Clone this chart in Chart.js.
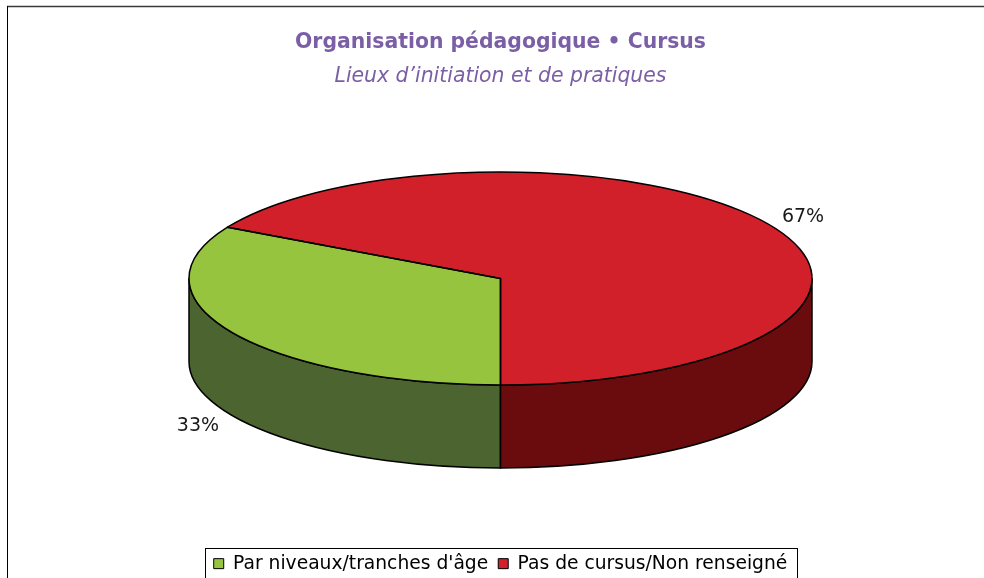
<!DOCTYPE html>
<html lang="fr">
<head>
<meta charset="utf-8">
<title>Organisation pédagogique • Cursus</title>
<script src="https://cdn.jsdelivr.net/npm/chart.js@4/dist/chart.umd.min.js"></script>
<style>
  html, body { margin: 0; padding: 0; background: #fff; }
  #wrap { width: 984px; height: 578px; }
</style>
</head>
<body>
<div id="wrap"><canvas id="c" width="984" height="578"></canvas></div>
<script>
// ---- data ----
const categories = ['Par niveaux/tranches d\'âge', 'Pas de cursus/Non renseigné'];
const shares = [33, 67];
const chartTitle = 'Organisation pédagogique • Cursus';
const chartSubtitle = 'Lieux d’initiation et de pratiques';

// ---- styles ----
const topColors = ['#96c43e', '#d12029'];
const sideColors = ['#4c6530', '#6a0b0d'];
const FONT = '"DejaVu Sans", Verdana, sans-serif';
const TITLE_COLOR = '#7b5fa6';
const OUTLINE = '#000';
const TILT = 106.5 / 311.5;   // vertical squash of the disc
const DEPTH = 83;             // disc thickness (px)
const LABEL_GAP = 40;         // distance of % labels outside the rim
const FRONT_LABEL_DROP = 3;   // extra drop for labels on the near side

// Geometry of the disc from the arcs laid out by the doughnut controller.
// The extruded disc is centred in the chart area, so its top face sits DEPTH/2 higher.
function disc(chart) {
  const meta = chart.getDatasetMeta(0);
  const a = meta.data[0];
  const R = a.outerRadius;
  return { meta, cx: a.x, cy: a.y, R, r: R * TILT, top: a.y - DEPTH / 2 };
}

const pie3d = {
  id: 'pie3d',
  beforeDraw(chart) {
    const ctx = chart.ctx;
    ctx.save();
    ctx.fillStyle = '#fff';
    ctx.fillRect(0, 0, chart.width, chart.height);
    // frame
    ctx.strokeStyle = '#3a3a3a';
    ctx.lineWidth = 1.5;
    ctx.beginPath();
    ctx.moveTo(7, 6.5); ctx.lineTo(chart.width, 6.5);
    ctx.stroke();
    ctx.strokeStyle = '#000';
    ctx.lineWidth = 1;
    ctx.beginPath();
    ctx.moveTo(7.5, 6); ctx.lineTo(7.5, chart.height);
    ctx.stroke();
    ctx.restore();
  },
  beforeDatasetsDraw(chart) {
    // front walls of each slice (the part of the rim facing the viewer)
    const g = disc(chart), ctx = chart.ctx;
    ctx.save();
    ctx.lineWidth = 1.5;
    ctx.strokeStyle = OUTLINE;
    ctx.lineJoin = 'round';
    g.meta.data.forEach((arc, i) => {
      const s = arc.startAngle, e = arc.endAngle;
      for (let m = -2 * Math.PI; m <= 4 * Math.PI; m += 2 * Math.PI) {
        const lo = Math.max(s, m), hi = Math.min(e, m + Math.PI);
        if (hi <= lo) continue;
        ctx.beginPath();
        ctx.ellipse(g.cx, g.top, g.R, g.r, 0, lo, hi, false);
        ctx.ellipse(g.cx, g.top + DEPTH, g.R, g.r, 0, hi, lo, true);
        ctx.closePath();
        ctx.fillStyle = sideColors[i];
        ctx.fill();
        ctx.stroke();
      }
    });
    ctx.restore();
  },
  beforeDatasetDraw(chart) {
    // tilt the top face: draw the circular pie squashed into an ellipse
    const g = disc(chart), ctx = chart.ctx;
    ctx.save();
    ctx.translate(g.cx, g.top);
    ctx.scale(1, TILT);
    ctx.translate(-g.cx, -g.cy);
  },
  afterDatasetDraw(chart) {
    chart.ctx.restore();
  },
  afterDatasetsDraw(chart) {
    const g = disc(chart), ctx = chart.ctx;
    const values = chart.data.datasets[0].data;
    const total = values.reduce((a, b) => a + b, 0);
    ctx.save();
    // outlines of the top face
    ctx.lineWidth = 1.5;
    ctx.strokeStyle = OUTLINE;
    ctx.lineJoin = 'round';
    g.meta.data.forEach((arc) => {
      ctx.beginPath();
      ctx.moveTo(g.cx, g.top);
      ctx.ellipse(g.cx, g.top, g.R, g.r, 0, arc.startAngle, arc.endAngle, false);
      ctx.closePath();
      ctx.stroke();
    });
    // percentage labels
    ctx.font = '19px ' + FONT;
    ctx.fillStyle = '#1a1a1a';
    ctx.textAlign = 'center';
    ctx.textBaseline = 'middle';
    g.meta.data.forEach((arc, i) => {
      const mid = (arc.startAngle + arc.endAngle) / 2;
      const rr = g.R + LABEL_GAP;
      const sn = Math.sin(mid);
      const x = g.cx + rr * Math.cos(mid);
      const y = g.top + rr * TILT * sn + (sn > 0 ? DEPTH + FRONT_LABEL_DROP : 0);
      ctx.fillText(Math.round(values[i] / total * 100) + '%', x, y);
    });
    ctx.restore();
  },
  afterDraw(chart) {
    // frame around the legend
    const lg = chart.legend;
    if (!lg || !lg.legendHitBoxes || !lg.legendHitBoxes.length) return;
    const hb = lg.legendHitBoxes;
    const left = Math.min(...hb.map(h => h.left)) - 8.5;
    const right = Math.max(...hb.map(h => h.left + h.width)) + 9.5;
    const top = Math.min(...hb.map(h => h.top)) - 6.5;
    const ctx = chart.ctx;
    ctx.save();
    ctx.strokeStyle = '#000';
    ctx.lineWidth = 1;
    ctx.strokeRect(Math.round(left) + 0.5, Math.round(top) + 0.5,
                   Math.round(right - left), chart.height + 10 - Math.round(top));
    ctx.restore();
  }
};

new Chart(document.getElementById('c'), {
  type: 'doughnut',
  data: {
    labels: categories,
    datasets: [{
      data: shares,
      backgroundColor: topColors,
      borderWidth: 0,
      clip: false
    }]
  },
  options: {
    responsive: false,
    animation: false,
    events: [],
    cutout: 0,
    rotation: 180,
    radius: 311.5,
    layout: { padding: { left: 17, right: 0, top: 0, bottom: -5 } },
    plugins: {
      title: {
        display: true,
        text: chartTitle,
        color: TITLE_COLOR,
        font: { family: FONT, size: 20.4, weight: 'bold' },
        padding: { top: 30, bottom: 0 }
      },
      subtitle: {
        display: true,
        text: chartSubtitle,
        color: TITLE_COLOR,
        font: { family: FONT, size: 20.4, style: 'italic', weight: 'normal' },
        padding: { top: 10, bottom: 6.7 }
      },
      legend: {
        position: 'bottom',
        labels: {
          boxWidth: 10,
          boxHeight: 10,
          padding: 10,
          color: '#000',
          font: { family: FONT, size: 18.7 },
          generateLabels(chart) {
            const ds = chart.data.datasets[0];
            return chart.data.labels.map((text, i) => ({
              text,
              fillStyle: ds.backgroundColor[i],
              strokeStyle: OUTLINE,
              lineWidth: 1,
              fontColor: '#000',
              hidden: false,
              index: i
            }));
          }
        }
      },
      tooltip: { enabled: false }
    }
  },
  plugins: [pie3d]
});
</script>
</body>
</html>
